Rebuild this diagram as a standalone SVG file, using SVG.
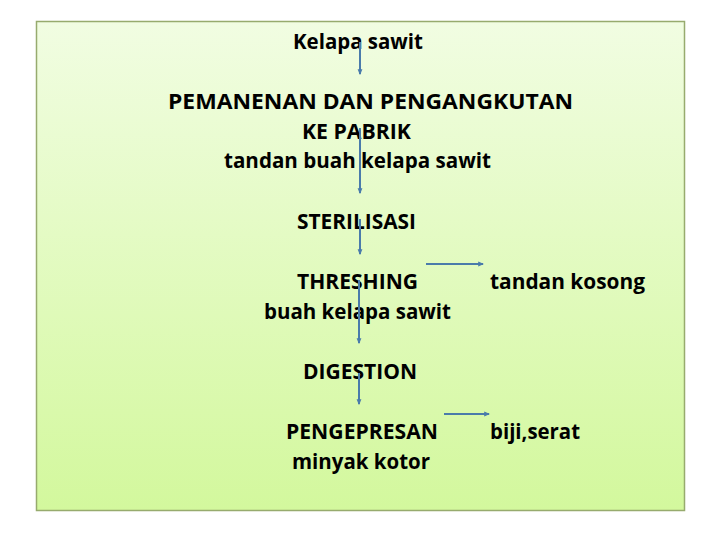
<svg xmlns="http://www.w3.org/2000/svg" width="720" height="540" viewBox="0 0 720 540">
<defs>
<linearGradient id="bg" x1="0" y1="0" x2="0" y2="1">
<stop offset="0" stop-color="#f1fde2"/>
<stop offset="1" stop-color="#d3f89d"/>
</linearGradient>
<marker id="ah" viewBox="0 0 10 10" refX="8" refY="5" markerWidth="6" markerHeight="6" orient="auto" markerUnits="userSpaceOnUse">
<path d="M0,1 L10,5 L0,9 Z" fill="#4a7bab"/>
</marker>
<style>
.t{font-family:"Open Sans","Liberation Sans",sans-serif;font-size:20.5px;font-weight:bold;fill:#000}
.c{stroke:#4a7bab;stroke-width:2;fill:none;marker-end:url(#ah)}
</style>
</defs>
<rect width="720" height="540" fill="#ffffff"/>
<rect id="frame" x="36.5" y="21.5" width="648" height="489" fill="url(#bg)" stroke="#97ab6e" stroke-width="1.5"/>
<g id="n1"><text class="t" x="293" y="49" textLength="130" lengthAdjust="spacingAndGlyphs">Kelapa sawit</text></g>
<g id="n2"><text class="t" x="168" y="109" textLength="405" lengthAdjust="spacingAndGlyphs">PEMANENAN DAN PENGANGKUTAN</text><text class="t" x="302" y="139" textLength="109" lengthAdjust="spacingAndGlyphs">KE PABRIK</text><text class="t" x="224" y="168" textLength="267" lengthAdjust="spacingAndGlyphs">tandan buah kelapa sawit</text></g>
<g id="n3"><text class="t" x="297" y="229" textLength="119" lengthAdjust="spacingAndGlyphs">STERILISASI</text></g>
<g id="n4"><text class="t" x="297" y="289" textLength="121" lengthAdjust="spacingAndGlyphs">THRESHING</text><text class="t" x="264" y="319" textLength="187" lengthAdjust="spacingAndGlyphs">buah kelapa sawit</text></g>
<g id="n5"><text class="t" x="490" y="289" textLength="155" lengthAdjust="spacingAndGlyphs">tandan kosong</text></g>
<g id="n6"><text class="t" x="303" y="379" textLength="114" lengthAdjust="spacingAndGlyphs">DIGESTION</text></g>
<g id="n7"><text class="t" x="286" y="439" textLength="152" lengthAdjust="spacingAndGlyphs">PENGEPRESAN</text><text class="t" x="292" y="469" textLength="138" lengthAdjust="spacingAndGlyphs">minyak kotor</text></g>
<g id="n8"><text class="t" x="490" y="439" textLength="90" lengthAdjust="spacingAndGlyphs">biji,serat</text></g>
<g id="connectors">
<line class="c" x1="360" y1="42" x2="360" y2="74"/>
<line class="c" x1="360" y1="128" x2="360" y2="193"/>
<line class="c" x1="360" y1="219" x2="360" y2="254"/>
<line class="c" x1="359" y1="280" x2="359" y2="343"/>
<line class="c" x1="359" y1="373" x2="359" y2="404"/>
<line class="c" x1="426" y1="264" x2="483" y2="264"/>
<line class="c" x1="444" y1="414" x2="489" y2="414"/>
</g>
</svg>
